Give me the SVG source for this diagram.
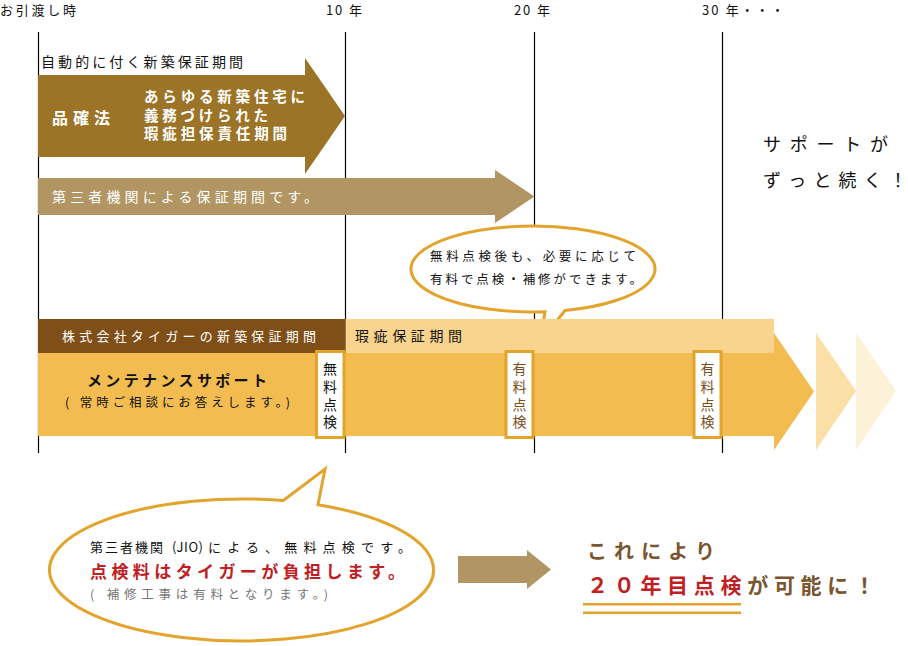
<svg xmlns="http://www.w3.org/2000/svg" width="908" height="646" viewBox="0 0 908 646">
<style>
text{font-family:"Noto Sans CJK JP","Noto Sans",sans-serif;}
.axis{stroke:#000;stroke-width:1.2;}
.lbl{font-size:13px;fill:#111;}
.w{fill:#fff;}
.bub{fill:#fff;stroke:#e2a42c;stroke-width:3;}
.box{fill:#fff;stroke:#e2a42c;stroke-width:3;}
.vt{font-size:14px;writing-mode:vertical-rl;letter-spacing:3.6px;}
</style>
<rect width="908" height="646" fill="#fff"/>

<g id="connectors">
  <line class="axis" x1="38.5" y1="32" x2="38.5" y2="453"/>
  <line class="axis" x1="345.5" y1="32" x2="345.5" y2="453"/>
  <line class="axis" x1="534.5" y1="32" x2="534.5" y2="453"/>
  <line class="axis" x1="722.5" y1="32" x2="722.5" y2="453"/>
</g>

<g id="axis-labels">
  <text class="lbl" x="0" y="15" textLength="76">お引渡し時</text>
  <text class="lbl" x="326" y="15" textLength="36">10 年</text>
  <text class="lbl" x="514" y="15" textLength="36">20 年</text>
  <text class="lbl" x="702" y="15" textLength="82">30 年・・・</text>
</g>

<g id="arrow-hinkakuho">
  <text x="41" y="67" font-size="14" fill="#111" textLength="202">自動的に付く新築保証期間</text>
  <polygon points="38,75 305,75 305,58 345,116 305,174 305,157 38,157" fill="#9b7428"/>
  <text x="52" y="124" font-size="16" font-weight="bold" class="w" textLength="58">品確法</text>
  <text font-size="14.5" font-weight="bold" class="w"><tspan x="144" y="102" textLength="161">あらゆる新築住宅に</tspan><tspan x="144" y="120.5" textLength="124">義務づけられた</tspan><tspan x="144" y="139" textLength="143">瑕疵担保責任期間</tspan></text>
</g>

<g id="arrow-third-party">
  <polygon points="38,178 495,178 495,170 534.5,196.5 495,223 495,215 38,215" fill="#b19663"/>
  <text x="52" y="202" font-size="14" class="w" textLength="266">第三者機関による保証期間です。</text>
</g>

<g id="bubble-paid">
  <path class="bub" d="M545,311.8 A122,43 0 1 1 565,310.5 L540,342 Z"/>
  <text x="430" y="261" font-size="12.5" fill="#111" textLength="206">無料点検後も、必要に応じて</text>
  <text x="430" y="284" font-size="12.5" fill="#111" textLength="212">有料で点検・補修ができます。</text>
</g>

<g id="arrow-maintenance">
  <polygon points="896,391 856,450 856,333" fill="#fdf1d8"/>
  <polygon points="856,391 816,450 816,333" fill="#fae0a6"/>
  <rect x="38" y="319" width="307.5" height="34" fill="#7f4f17"/>
  <rect x="345.5" y="319" width="428.5" height="34" fill="#f8d48f"/>
  <polygon points="38,353 774,353 774,333 814,391.5 774,450 774,436 38,436" fill="#f2bc51"/>
  <text x="62" y="341" font-size="13" class="w" textLength="254">株式会社タイガーの新築保証期間</text>
  <text x="355" y="341" font-size="14" fill="#111" textLength="107">瑕疵保証期間</text>
  <text x="87" y="386" font-size="15" font-weight="bold" fill="#111" textLength="180">メンテナンスサポート</text>
  <text x="65" y="407" font-size="12.5" fill="#111" textLength="225">( 常時ご相談にお答えします。)</text>
</g>

<g id="check-free">
  <rect class="box" x="316.5" y="351.5" width="27.5" height="86"/>
  <text class="vt" x="330" y="362" fill="#111">無料点検</text>
</g>
<g id="check-paid-20">
  <rect class="box" x="506" y="351.5" width="27" height="86"/>
  <text class="vt" x="519.5" y="362" fill="#7a4f1c">有料点検</text>
</g>
<g id="check-paid-30">
  <rect class="box" x="694" y="351.5" width="27" height="86"/>
  <text class="vt" x="707.5" y="362" fill="#7a4f1c">有料点検</text>
</g>

<g id="support-continues">
  <text x="763" y="151" font-size="18" fill="#111" textLength="125">サポートが</text>
  <text x="763" y="187" font-size="18" fill="#111" textLength="144">ずっと続く！</text>
</g>

<g id="bubble-jio">
  <path class="bub" d="M283,500.6 A192,71 0 1 0 318,504.8 L325,469 Z"/>
  <text x="90" y="552" font-size="13" fill="#111" textLength="73">第三者機関</text>
  <text x="172" y="552" font-size="13" fill="#111" textLength="31">(JIO)</text>
  <text x="208" y="552" font-size="13" fill="#111" textLength="203">による、無料点検です。</text>
  <text x="90" y="578" font-size="17" font-weight="bold" fill="#c0201f" textLength="315">点検料はタイガーが負担します。</text>
  <text x="90" y="599" font-size="12.5" fill="#777" textLength="238">( 補修工事は有料となります。)</text>
</g>

<g id="arrow-result">
  <polygon points="458,556 527,556 527,550 551,569.5 527,589 527,583 458,583" fill="#b19663"/>
</g>

<g id="result">
  <text x="587" y="559" font-size="20" font-weight="bold" fill="#7a5530" textLength="128">これにより</text>
  <text x="587" y="593" font-size="21" font-weight="bold" fill="#7a5530" textLength="288"><tspan fill="#c0201f">２０年目点検</tspan>が可能に！</text>
  <rect x="583" y="603" width="158" height="2.5" fill="#e2a42c"/>
  <rect x="583" y="611.5" width="158" height="2.5" fill="#e2a42c"/>
</g>
</svg>
